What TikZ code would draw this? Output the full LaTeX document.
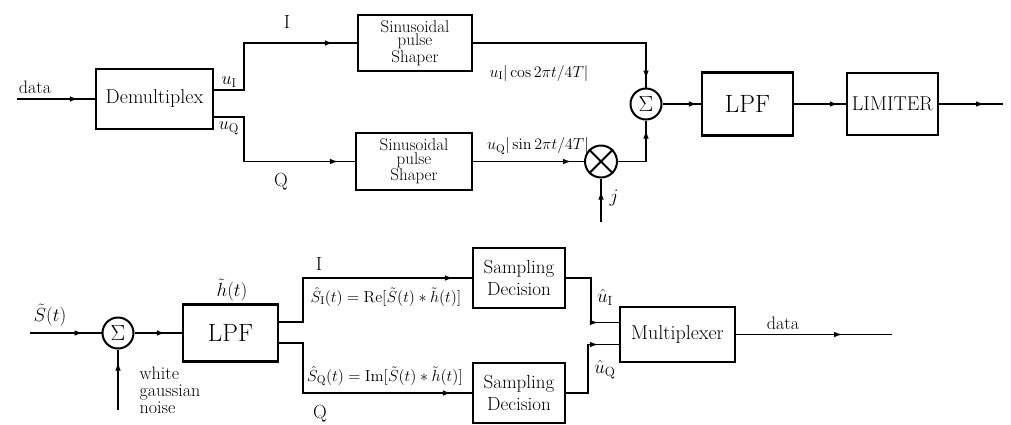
\documentclass[tikz,border=0pt]{standalone}
\usepackage{fix-cm}
\usetikzlibrary{arrows.meta,decorations.markings,calc}
\begin{document}
\begin{tikzpicture}[x=1pt,y=-1pt,
  blk/.style={draw, line width=2.2pt, inner sep=0pt, align=center},
  ln/.style={line width=1.8pt},
  sumc/.style={draw, circle, line width=2pt, minimum size=31pt, inner sep=0pt, font=\fontsize{22}{24}\selectfont},
  arr/.style={postaction={decorate}, decoration={markings, mark=at position -#1 with {\arrow{Latex[length=9pt,width=5.5pt]}}}},
  lbl/.style={inner sep=0pt},
  bigf/.style={font=\fontsize{20}{22}\selectfont},
  shf/.style={font=\fontsize{17}{13.5}\selectfont},
  smf/.style={font=\fontsize{19}{22}\selectfont},
  eqf/.style={font=\fontsize{16}{18}\selectfont},
]
\useasboundingbox (0,0) rectangle (1011,424);

% ---------------- top: transmitter ----------------
\node[blk, bigf, minimum width=117pt, minimum height=60pt] (demux) at (154.5,99) {Demultiplex};
\node[blk, shf, minimum width=114pt, minimum height=56pt] (shI) at (415,43) {Sinusoidal\\pulse\\Shaper};
\node[blk, shf, minimum width=116pt, minimum height=57pt] (shQ) at (414,161.5) {Sinusoidal\\pulse\\Shaper};
\node[sumc] (sum1) at (646,104) {$\Sigma$};
\node[sumc, minimum size=32pt] (mult) at (601,161.5) {};
\draw[line width=2pt] (mult.north west) -- (mult.south east) (mult.north east) -- (mult.south west);
\node[blk, font=\fontsize{25}{27}\selectfont, minimum width=91pt, minimum height=63pt] (lpf1) at (747.5,104) {LPF};
\node[blk, bigf, minimum width=91pt, minimum height=62pt] (lim) at (892.5,104) {LIMITER};

\coordinate (din) at (17,99);
\coordinate (jin) at (601,222);
\coordinate (tout) at (1003,104);

\draw[ln, arr=16pt] (din) -- (demux.west);
\draw[ln, arr=23pt] ([yshift=9pt]demux.east) -- ++(30,0) |- (shI.west);
\draw[ln, arr=16pt] ([yshift=-18pt]demux.east) -- ++(30,0) |- (shQ.west);
\draw[ln, arr=8pt] (shI.east) -| (sum1.north);
\draw[ln, arr=12pt] (shQ.east) -- (mult.west);
\draw[ln, arr=9pt] (mult.east) -| (sum1.south);
\draw[ln, arr=12pt] (jin) -- (mult.south);
\draw[ln, arr=3pt] (sum1.east) -- (lpf1.west);
\draw[ln, arr=7pt] (lpf1.east) -- (lim.west);
\draw[ln, arr=18pt] (lim.east) -- (tout);

\node[lbl, font=\fontsize{18}{20}\selectfont] (ldata1) at (35,87) {data};
\node[lbl, font=\fontsize{19}{20}\selectfont] (lI1) at (287,22) {I};
\node[lbl, font=\fontsize{19}{20}\selectfont] (lQ1) at (281,182) {Q};
\node[lbl, font=\fontsize{18}{20}\selectfont] (luI) at (229,82) {$u_{\mathrm{I}}$};
\node[lbl, font=\fontsize{18}{20}\selectfont] (luQ) at (229,128) {$u_{\mathrm{Q}}$};
\node[lbl, eqf] (lcos) at (539,73) {$u_{\mathrm{I}}\Big|\cos 2\pi t/4T\Big|$};
\node[lbl, eqf] (lsin) at (538,146) {$u_{\mathrm{Q}}\Big|\sin 2\pi t/4T\Big|$};
\node[lbl, font=\fontsize{19}{20}\selectfont] (lj) at (614,198) {$j$};

% ---------------- bottom: receiver ----------------
\node[sumc] (sum2) at (118,333) {$\Sigma$};
\node[blk, font=\fontsize{25}{27}\selectfont, minimum width=95pt, minimum height=57pt] (lpf2) at (230.5,333) {LPF};
\node[blk, smf, minimum width=92pt, minimum height=60pt] (samp1) at (519,278) {Sampling\\Decision};
\node[blk, smf, minimum width=92pt, minimum height=60pt] (samp2) at (519,393) {Sampling\\Decision};
\node[blk, bigf, minimum width=115pt, minimum height=55pt] (mux) at (677.5,334.5) {Multiplexer};

\coordinate (sin) at (30,333);
\coordinate (nz) at (118,410);
\coordinate (bout) at (892,334.5);

\draw[ln, arr=18pt] (sin) -- (sum2.west);
\draw[ln, arr=12pt] (nz) -- (sum2.south);
\draw[ln, arr=16pt] (sum2.east) -- (lpf2.west);
\draw[ln, arr=18pt] ([yshift=11pt]lpf2.east) -- ++(24,0) |- (samp1.west);
\draw[ln, arr=20pt] ([yshift=-10pt]lpf2.east) -- ++(24,0) |- (samp2.west);
\draw[ln, arr=20pt] (samp1.east) -- ++(25,0) |- ([yshift=12pt]mux.west);
\draw[ln, arr=20pt] (samp2.east) -- ++(22,0) |- ([yshift=-10pt]mux.west);
\draw[ln, arr=49pt] (mux.east) -- (bout);

\node[lbl, font=\fontsize{19}{20}\selectfont] (lS) at (50,315) {$\tilde S(t)$};
\node[lbl, font=\fontsize{18}{17}\selectfont, align=left] (lnoise) at (170,390) {white\\gaussian\\noise};
\node[lbl, font=\fontsize{19}{20}\selectfont] (lh) at (232,290) {$\tilde h(t)$};
\node[lbl, font=\fontsize{19}{20}\selectfont] (lI2) at (319,264) {I};
\node[lbl, font=\fontsize{19}{20}\selectfont] (lQ2) at (320,414) {Q};
\node[lbl, eqf] (lre) at (386,297) {$\hat S_{\mathrm{I}}(t)=\mathrm{Re}\big[\tilde S(t)*\tilde h(t)\big]$};
\node[lbl, eqf] (lim2) at (385,376) {$\hat S_{\mathrm{Q}}(t)=\mathrm{Im}\big[\tilde S(t)*\tilde h(t)\big]$};
\node[lbl, font=\fontsize{19}{20}\selectfont] (luI2) at (605,297) {$\hat u_{\mathrm{I}}$};
\node[lbl, font=\fontsize{19}{20}\selectfont] (luQ2) at (605,370) {$\hat u_{\mathrm{Q}}$};
\node[lbl, font=\fontsize{18}{20}\selectfont] (ldata2) at (783,323) {data};
\end{tikzpicture}
\end{document}
